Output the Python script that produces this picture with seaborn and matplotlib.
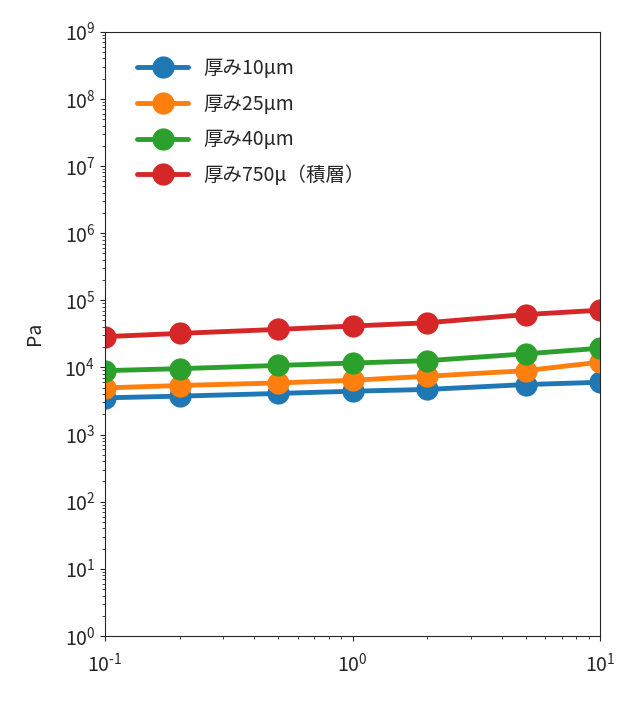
import matplotlib

matplotlib.use("Agg")
import matplotlib.pyplot as plt
from matplotlib.ticker import FuncFormatter
import numpy as np
import pandas as pd
import seaborn as sns

x_vals = [0.1, 0.2, 0.5, 1, 2, 5, 10]
labels = ["厚み10μm", "厚み25μm", "厚み40μm", "厚み750μ（積層）"]
v10 = [3520, 3730, 4090, 4420, 4690, 5550, 6000]
v25 = [4950, 5370, 5870, 6430, 7370, 8940, 11980]
v40 = [8940, 9570, 10700, 11600, 12600, 15900, 19300]
v750 = [28700, 32100, 36800, 41300, 46200, 61200, 71100]
colors = ["#1f77b4", "#ff7f0e", "#2ca02c", "#d62728"]

df = pd.concat(
    [
        pd.DataFrame({"x": x_vals, "Pa": vals, "series": lab})
        for lab, vals in zip(labels, [v10, v25, v40, v750])
    ],
    ignore_index=True,
)

sns.set_style("ticks")
plt.rcParams["font.family"] = ["Noto Sans CJK JP", "DejaVu Sans"]
plt.rcParams["axes.unicode_minus"] = False


def pow10(v, pos):
    e = int(round(np.log10(v)))
    if e < 0:
        return r"$\mathdefault{10^{\text{-}%d}}$" % (-e)
    return r"$\mathdefault{10^{%d}}$" % e


fig = plt.figure(figsize=(6.33, 7.21), dpi=100)
ax = fig.add_axes([0.166, 0.118, 0.782, 0.838])

sns.lineplot(
    data=df, x="x", y="Pa", hue="series", hue_order=labels,
    palette=colors, marker="o", markersize=16, markeredgewidth=0,
    linewidth=3.5, ax=ax,
)

ax.set_xscale("log")
ax.set_yscale("log")
ax.set_xlim(0.1, 10)
ax.set_ylim(1, 1e9)
ax.set_yticks([10.0 ** k for k in range(10)])
ax.xaxis.set_major_formatter(FuncFormatter(pow10))
ax.yaxis.set_major_formatter(FuncFormatter(pow10))
ax.set_xlabel("")
ax.set_ylabel("Pa", fontsize=14, labelpad=14)
ax.tick_params(labelsize=14)
ax.tick_params(axis="x", which="major", pad=9)

leg = ax.legend(loc="upper left", frameon=False, fontsize=14,
                bbox_to_anchor=(0.03, 0.985), handlelength=2.6,
                labelspacing=0.75)

fig.savefig("out.png", dpi=100)
